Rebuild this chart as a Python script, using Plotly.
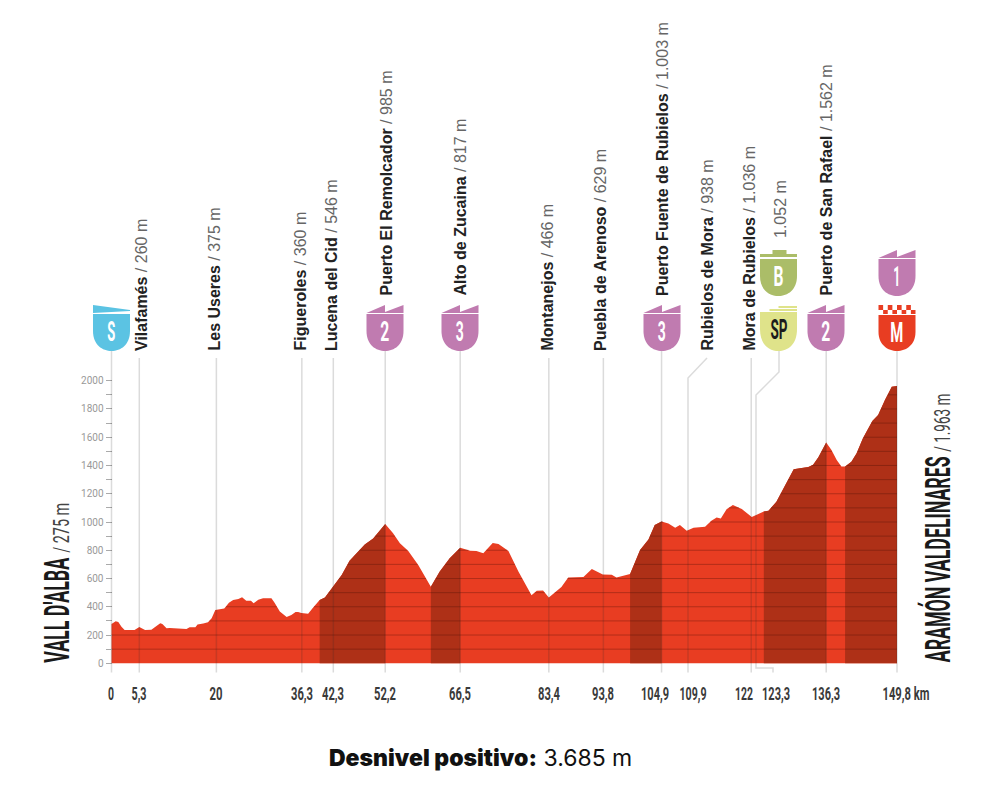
import json

import numpy as np
import plotly.graph_objects as go

W, H = 994, 796
X0, X1 = 111.5, 897  # px of km 0 and km 149.8
Y0, Y2000 = 663.3, 380.7  # px of 0 m and 2000 m

CONDENSED = "Roboto"  # squeezed to the printed widths in the post script below
LABEL = "Liberation Sans"
RED = "#E83D22"
DARK = "#AE3017"
PURPLE = "#C07BB0"

km = [0, 0.8, 1.3, 1.9, 2.5, 4.4, 5.3, 6.4, 7.6, 8.6, 9.3, 9.7, 10.5, 11.1, 12.7, 14.3, 14.9, 16.0, 16.4, 17.2,
      17.5, 18.4, 19.1, 19.8, 20.7, 21.5, 22.4, 23.2, 24.2, 24.9, 25.7, 26.6, 27.1, 28, 28.9, 29.9, 30.5, 31.1,
      32.1, 33.4, 34.3, 35.1, 35.6, 36.2, 36.9, 37.5, 38.5, 39.7, 40.7, 42.3, 43.9, 45.4, 47, 48.3, 49.9, 52.2,
      53.7, 55, 56.6, 58.5, 60.9, 62.6, 64.5, 66.5, 68.4, 69.6, 70.9, 72.7, 73.8, 75.7, 77.6, 80.1, 81.1, 82.3,
      83.4, 85.8, 87.1, 90, 91.6, 93.7, 95.4, 96.3, 98.9, 100.8, 102.4, 103.6, 104.9, 106.2, 107.5, 108.4, 109.7,
      111, 113.2, 114.4, 115.4, 116.2, 117.3, 118.5, 120.2, 122.1, 124.4, 125.3, 126.8, 128.1, 129, 130.1, 131.3,
      132.9, 133.8, 134.8, 136.3, 137.3, 138.3, 139.2, 139.9, 141.1, 142.1, 143.3, 145.1, 146.2, 147.5, 148.8,
      149.8]
elevation = [278, 297, 292, 259, 236, 236, 257, 236, 238, 266, 283, 278, 248, 250, 245, 243, 255, 255, 274, 276,
             281, 290, 318, 377, 384, 387, 429, 448, 455, 467, 443, 443, 425, 450, 460, 457, 460, 429,
             366, 328, 342, 363, 363, 356, 351, 351, 396, 448, 465, 546, 625, 726, 790, 840, 884, 985,
             920, 849, 795, 696, 542, 649, 743, 817, 797, 795, 778, 851, 844, 795, 649, 481, 514, 516,
             466, 540, 608, 611, 667, 629, 627, 608, 632, 802, 877, 979, 1003, 990, 960, 979, 938,
             960, 967, 1009, 1031, 1024, 1090, 1120, 1092, 1036, 1075, 1080, 1144, 1238, 1297, 1373, 1380,
             1389, 1406, 1458, 1562, 1509, 1439, 1392, 1392, 1427, 1486, 1592, 1715, 1757, 1863, 1958,
             1963]

climb_starts = [39.7, 60.9, 98.9, 124.4, 139.9]
climb_ends = [52.2, 66.5, 104.9, 136.3, 149.8]

grid_levels = list(range(100, 2000, 100))
y_ticks = list(range(0, 2100, 100))
y_tick_text = [str(v) if v % 200 == 0 else "" for v in y_ticks]

# the printed km labels are nudged sideways where they would collide
x_label_px = [111, 139, 216, 302, 333, 385, 460, 549, 603, 655, 693, 744, 776, 826, 906]
x_label_text = ["0", "5,3", "20", "36,3", "42,3", "52,2", "66,5", "83,4", "93,8", "104,9", "109,9", "122",
                "123,3", "136,3", "149,8 km"]
x_label_width = [6, 15, 13, 22, 22, 22, 22, 22, 22, 28, 27, 18, 28, 28, 47]

line_km = [0, 5.3, 20, 36.3, 42.3, 52.2, 66.5, 83.4, 93.8, 104.9, 122, 136.3, 149.8]
line_top = [351, 358, 358, 358, 358, 351, 351, 358, 358, 351, 358, 351, 351]

place_names = ["Vilafamés", "Les Useres", "Figueroles", "Lucena del Cid", "Puerto El Remolcador", "Alto de Zucaina",
               "Montanejos", "Puebla de Arenoso", "Puerto Fuente de Rubielos", "Rubielos de Mora",
               "Mora de Rubielos", "Puerto de San Rafael"]
place_heights = ["260 m", "375 m", "360 m", "546 m", "985 m", "817 m", "466 m", "629 m", "1.003 m", "938 m",
                 "1.036 m", "1.562 m"]
place_x = [142, 214, 300, 332, 386, 460, 547, 601, 662, 707, 749, 826]
place_bottom = [351, 351, 351, 351, 296, 296, 351, 351, 296, 351, 351, 296]

badge_text = ["S", "2", "3", "3", "SP", "2", "M", "B", "1"]
badge_x = [111.5, 385, 460, 662, 778.5, 826, 897, 778.5, 897]
badge_top = [314, 314, 314, 314, 312, 314, 315, 259, 259]
badge_kind = ["start", "cat", "cat", "cat", "sprint", "cat", "finish", "bonus", "cat"]
badge_color = ["#5BC3E3", PURPLE, PURPLE, PURPLE, "#DFE38A", PURPLE, RED, "#ABBD68", PURPLE]
badge_text_color = ["white", "white", "white", "white", "#1c1c1c", "white", "white", "white", "white"]
badge_text_width = [8, 9, 8, 8, 17, 9, 13, 10, 7]


def px(x):
    return x / W


def py(y):
    return 1 - y / H


def poly(points):
    return "M " + " L ".join(f"{px(a):.5f},{py(b):.5f}" for a, b in points) + " Z"


def paper_path(points, color):
    return dict(type="path", xref="paper", yref="paper", path=poly(points), fillcolor=color, line_width=0)


def badge_shapes(cx, top, kind, color):
    left, right = cx - 18.5, cx + 18.5
    side = top + 17
    bottom = 351 if top > 300 else 296
    body = f"M {px(left):.5f},{py(top):.5f} L {px(right):.5f},{py(top):.5f} L {px(right):.5f},{py(side):.5f} " \
           f"C {px(right):.5f},{py(bottom - 6):.5f} {px(cx + 9):.5f},{py(bottom):.5f} {px(cx):.5f},{py(bottom):.5f} " \
           f"C {px(cx - 9):.5f},{py(bottom):.5f} {px(left):.5f},{py(bottom - 6):.5f} {px(left):.5f},{py(side):.5f} Z"
    out = [dict(type="path", xref="paper", yref="paper", path=body, fillcolor=color, line_width=0)]
    if kind == "cat":
        out.append(paper_path([(left, top - 1), (cx, top - 9), (cx, top - 2), (right, top - 9), (right, top - 1)], color))
    elif kind == "start":
        out.append(paper_path([(left, top - 9), (right, top - 4), (right, top - 3), (left, top - 1)], color))
    elif kind == "bonus":
        out.append(paper_path([(left, top - 5), (cx - 6, top - 5), (cx - 6, top - 9), (cx + 8, top - 9),
                               (cx + 8, top - 5), (right, top - 5), (right, top - 2), (left, top - 2)], color))
    elif kind == "sprint":
        out.append(paper_path([(cx - 9, top - 3), (right, top - 3), (right, top - 1), (cx - 9, top - 1)], color))
        out.append(paper_path([(cx, top - 6), (right, top - 6), (right, top - 4), (cx, top - 4)], color))
    elif kind == "finish":
        step = 37 / 8
        for i in range(8):
            a = left + i * step
            y1, y2 = (top - 10, top - 5) if i % 2 == 0 else (top - 5, top - 1)
            out.append(paper_path([(a, y1), (a + step, y1), (a + step, y2), (a, y2)], color))
    return out


fig = go.Figure()
fig.add_trace(go.Scatter(x=km, y=elevation, mode="lines", line=dict(color=RED, width=0), fill="tozeroy",
                         fillcolor=RED, hoverinfo="skip"))

km_arr = np.array(km)
ele_arr = np.array(elevation)
for a, b in zip(climb_starts, climb_ends):
    keep = (km_arr >= a) & (km_arr <= b)
    fig.add_trace(go.Scatter(x=km_arr[keep], y=ele_arr[keep], mode="lines", line=dict(color=DARK, width=0),
                             fill="tozeroy", fillcolor=DARK, hoverinfo="skip"))

# grid only shows inside the profile
xs = np.linspace(0, 149.8, 3000)
profile = np.interp(xs, km, elevation)
for level in grid_levels:
    fig.add_trace(go.Scatter(x=xs, y=np.where(profile >= level, level, np.nan), mode="lines",
                             line=dict(color="rgba(70,15,5,0.33)", width=1), hoverinfo="skip"))

shapes = []
for k, top in zip(line_km, line_top):
    shapes.append(dict(type="line", xref="x", yref="paper", x0=k, x1=k, y0=py(top), y1=py(672.5),
                       line=dict(color="rgba(40,40,40,0.17)", width=1.5)))

# leader lines that bend round the badges
leaders = [[(688, 672.5), (688, 378), (707, 358)],
           [(779, 351), (779, 372), (756, 395), (756, 668), (773, 668), (773, 672.5)]]
for pts in leaders:
    path = "M " + " L ".join(f"{px(a):.5f},{py(b):.5f}" for a, b in pts)
    shapes.append(dict(type="path", xref="paper", yref="paper", path=path,
                       line=dict(color="rgba(40,40,40,0.17)", width=1.5)))

for cx, top, kind, color in zip(badge_x, badge_top, badge_kind, badge_color):
    shapes += badge_shapes(cx, top, kind, color)

annotations = []


def note(text, x, y, size, font=LABEL, color="#222", angle=0, xanchor="center", yanchor="middle"):
    annotations.append(dict(text=text, xref="paper", yref="paper", x=px(x), y=py(y), showarrow=False, textangle=angle,
                            xanchor=xanchor, yanchor=yanchor, font=dict(family=font, size=size, color=color),
                            borderpad=0, borderwidth=0))


for name, height, x, bottom in zip(place_names, place_heights, place_x, place_bottom):
    note(f"<b>{name}</b><span style='color:#666'> / {height}</span>", x, bottom, 16, angle=-90, yanchor="bottom")
note("1.052 m", 780, 238, 16, color="#666", angle=-90, yanchor="bottom")

for text, cx, top, color in zip(badge_text, badge_x, badge_top, badge_text_color):
    note(f"<b>{text}</b>", cx, top + 18, 27, font=CONDENSED, color=color)

note("<b>VALL D'ALBA</b>", 57, 610.5, 35, font=CONDENSED, color="#1a1a1a", angle=-90)
note("/ 275 m", 61, 528, 22, font=CONDENSED, color="#444", angle=-90)
note("<b>ARAMÓN VALDELINARES</b>", 938, 560, 35, font=CONDENSED, color="#1a1a1a", angle=-90)
note("/ 1.963 m", 942, 423, 22, font=CONDENSED, color="#444", angle=-90)
note("<span style='font-weight:900'>Desnivel positivo:</span> 3.685 m", 480, 758, 23, font="Inter", color="#111")

fig.update_layout(
    width=W, height=H,
    margin=dict(l=0, r=0, t=0, b=0),
    paper_bgcolor="white",
    plot_bgcolor="white",
    showlegend=False,
    hovermode=False,
    shapes=shapes,
    annotations=annotations,
    xaxis=dict(
        range=[(0 - X0) * 149.8 / (X1 - X0), (W - X0) * 149.8 / (X1 - X0)],
        anchor="free", position=py(Y0),
        tickmode="array",
        tickvals=[(p - X0) * 149.8 / (X1 - X0) for p in x_label_px],
        ticktext=[f"<b>{t}</b>" for t in x_label_text],
        tickfont=dict(family=CONDENSED, size=18, color="#3a3a3a"),
        ticks="outside", ticklen=14, tickcolor="rgba(0,0,0,0)",
        tickangle=0,
        showgrid=False, zeroline=False, showline=False,
    ),
    yaxis=dict(
        range=[(Y0 - H) * 2000 / (Y0 - Y2000), Y0 * 2000 / (Y0 - Y2000)],
        anchor="free", position=px(X0),
        tickmode="array",
        tickvals=y_ticks,
        ticktext=y_tick_text,
        tickfont=dict(family="Roboto", size=10, color="#999"),
        ticks="outside", ticklen=6, tickwidth=1, tickcolor="#aaa",
        showgrid=False, zeroline=False, showline=False,
    ),
)

# no condensed face is installed, so squeeze those texts with textLength
squeeze = dict(zip(x_label_text, x_label_width))
squeeze.update(zip(badge_text, badge_text_width))
squeeze.update({"VALL D'ALBA": 105, "/ 275 m": 50, "ARAMÓN VALDELINARES": 206, "/ 1.963 m": 58})
post = """
document.body.style.margin = '0';
var squeeze = %s;
document.querySelectorAll('.xtick text, .annotation-text').forEach(function (t) {
    var w = squeeze[t.textContent];
    if (w) {
        t.setAttribute('textLength', w);
        t.setAttribute('lengthAdjust', 'spacingAndGlyphs');
    }
});
""" % json.dumps(squeeze, ensure_ascii=False)

fig.write_html("out.html", post_script=post, config={"displayModeBar": False})
